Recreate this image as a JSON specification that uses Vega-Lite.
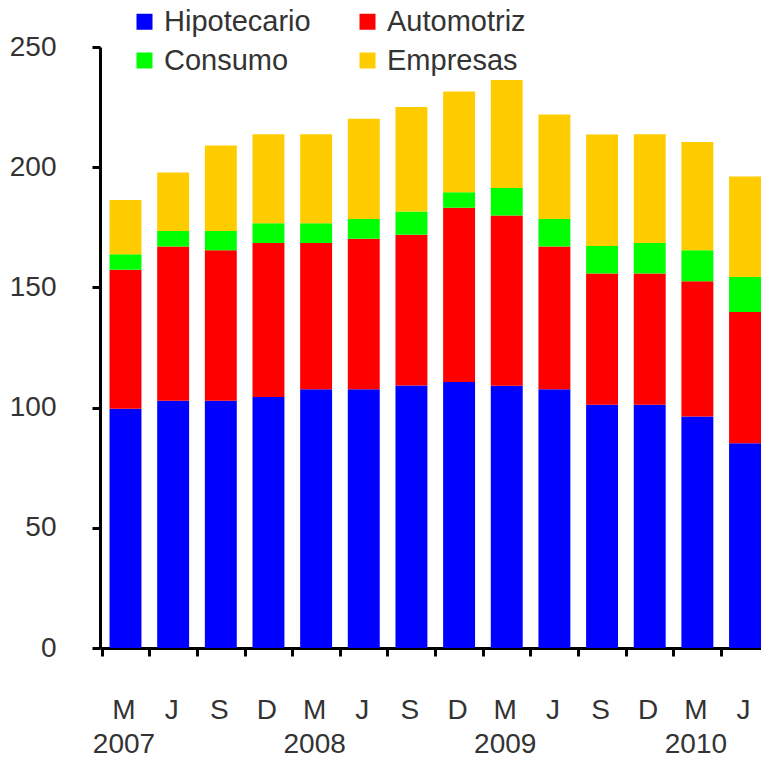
{
  "$schema": "https://vega.github.io/schema/vega-lite/v6.json",
  "width": 661,
  "height": 601,
  "autosize": {"type": "none"},
  "padding": {"left": 100, "top": 47, "right": 0, "bottom": 111},
  "background": "white",
  "config": {
    "view": {"stroke": null},
    "font": "Liberation Sans",
    "axis": {
      "domainColor": "black",
      "domainWidth": 3,
      "tickColor": "black",
      "tickWidth": 3,
      "tickSize": 8,
      "labelColor": "#333333",
      "labelFont": "Liberation Sans",
      "labelFontSize": 28,
      "grid": false,
      "title": null
    }
  },
  "data": {
    "values": [
      {"periodo": "M 2007", "serie": "Hipotecario", "orden": 1, "valor": 99.5},
      {"periodo": "M 2007", "serie": "Automotriz", "orden": 2, "valor": 57.8},
      {"periodo": "M 2007", "serie": "Consumo", "orden": 3, "valor": 6.5},
      {"periodo": "M 2007", "serie": "Empresas", "orden": 4, "valor": 22.6},
      {"periodo": "J 2007", "serie": "Hipotecario", "orden": 1, "valor": 102.8},
      {"periodo": "J 2007", "serie": "Automotriz", "orden": 2, "valor": 64.2},
      {"periodo": "J 2007", "serie": "Consumo", "orden": 3, "valor": 6.5},
      {"periodo": "J 2007", "serie": "Empresas", "orden": 4, "valor": 24.3},
      {"periodo": "S 2007", "serie": "Hipotecario", "orden": 1, "valor": 102.8},
      {"periodo": "S 2007", "serie": "Automotriz", "orden": 2, "valor": 62.7},
      {"periodo": "S 2007", "serie": "Consumo", "orden": 3, "valor": 8.0},
      {"periodo": "S 2007", "serie": "Empresas", "orden": 4, "valor": 35.5},
      {"periodo": "D 2007", "serie": "Hipotecario", "orden": 1, "valor": 104.4},
      {"periodo": "D 2007", "serie": "Automotriz", "orden": 2, "valor": 64.1},
      {"periodo": "D 2007", "serie": "Consumo", "orden": 3, "valor": 8.2},
      {"periodo": "D 2007", "serie": "Empresas", "orden": 4, "valor": 37.0},
      {"periodo": "M 2008", "serie": "Hipotecario", "orden": 1, "valor": 107.6},
      {"periodo": "M 2008", "serie": "Automotriz", "orden": 2, "valor": 60.9},
      {"periodo": "M 2008", "serie": "Consumo", "orden": 3, "valor": 8.2},
      {"periodo": "M 2008", "serie": "Empresas", "orden": 4, "valor": 37.0},
      {"periodo": "J 2008", "serie": "Hipotecario", "orden": 1, "valor": 107.6},
      {"periodo": "J 2008", "serie": "Automotriz", "orden": 2, "valor": 62.6},
      {"periodo": "J 2008", "serie": "Consumo", "orden": 3, "valor": 8.3},
      {"periodo": "J 2008", "serie": "Empresas", "orden": 4, "valor": 41.7},
      {"periodo": "S 2008", "serie": "Hipotecario", "orden": 1, "valor": 109.2},
      {"periodo": "S 2008", "serie": "Automotriz", "orden": 2, "valor": 62.7},
      {"periodo": "S 2008", "serie": "Consumo", "orden": 3, "valor": 9.7},
      {"periodo": "S 2008", "serie": "Empresas", "orden": 4, "valor": 43.4},
      {"periodo": "D 2008", "serie": "Hipotecario", "orden": 1, "valor": 110.7},
      {"periodo": "D 2008", "serie": "Automotriz", "orden": 2, "valor": 72.4},
      {"periodo": "D 2008", "serie": "Consumo", "orden": 3, "valor": 6.5},
      {"periodo": "D 2008", "serie": "Empresas", "orden": 4, "valor": 41.9},
      {"periodo": "M 2009", "serie": "Hipotecario", "orden": 1, "valor": 109.1},
      {"periodo": "M 2009", "serie": "Automotriz", "orden": 2, "valor": 70.8},
      {"periodo": "M 2009", "serie": "Consumo", "orden": 3, "valor": 11.4},
      {"periodo": "M 2009", "serie": "Empresas", "orden": 4, "valor": 45.0},
      {"periodo": "J 2009", "serie": "Hipotecario", "orden": 1, "valor": 107.6},
      {"periodo": "J 2009", "serie": "Automotriz", "orden": 2, "valor": 59.4},
      {"periodo": "J 2009", "serie": "Consumo", "orden": 3, "valor": 11.5},
      {"periodo": "J 2009", "serie": "Empresas", "orden": 4, "valor": 43.4},
      {"periodo": "S 2009", "serie": "Hipotecario", "orden": 1, "valor": 101.2},
      {"periodo": "S 2009", "serie": "Automotriz", "orden": 2, "valor": 54.6},
      {"periodo": "S 2009", "serie": "Consumo", "orden": 3, "valor": 11.4},
      {"periodo": "S 2009", "serie": "Empresas", "orden": 4, "valor": 46.4},
      {"periodo": "D 2009", "serie": "Hipotecario", "orden": 1, "valor": 101.2},
      {"periodo": "D 2009", "serie": "Automotriz", "orden": 2, "valor": 54.6},
      {"periodo": "D 2009", "serie": "Consumo", "orden": 3, "valor": 12.7},
      {"periodo": "D 2009", "serie": "Empresas", "orden": 4, "valor": 45.2},
      {"periodo": "M 2010", "serie": "Hipotecario", "orden": 1, "valor": 96.3},
      {"periodo": "M 2010", "serie": "Automotriz", "orden": 2, "valor": 56.3},
      {"periodo": "M 2010", "serie": "Consumo", "orden": 3, "valor": 12.9},
      {"periodo": "M 2010", "serie": "Empresas", "orden": 4, "valor": 45.0},
      {"periodo": "J 2010", "serie": "Hipotecario", "orden": 1, "valor": 85.2},
      {"periodo": "J 2010", "serie": "Automotriz", "orden": 2, "valor": 54.6},
      {"periodo": "J 2010", "serie": "Consumo", "orden": 3, "valor": 14.5},
      {"periodo": "J 2010", "serie": "Empresas", "orden": 4, "valor": 41.8}
    ]
  },
  "mark": {"type": "bar"},
  "encoding": {
    "x": {
      "field": "periodo",
      "type": "ordinal",
      "sort": null,
      "scale": {"paddingInner": 0.33, "paddingOuter": 0.1, "align": 1},
      "axis": {
        "labelAngle": 0,
        "bandPosition": 0,
        "tickOffset": -8,
        "labelOffset": 6,
        "labelPadding": 40,
        "labelLineHeight": 34,
        "labelBaseline": "top",
        "labelAlign": "center",
        "labelExpr": "[slice(datum.value,0,1), slice(datum.value,0,1)=='M' ? slice(datum.value,2) : '']"
      }
    },
    "y": {
      "field": "valor",
      "type": "quantitative",
      "stack": "zero",
      "scale": {"domain": [0, 250], "nice": false},
      "axis": {"values": [0, 50, 100, 150, 200, 250], "labelPadding": 36}
    },
    "color": {
      "field": "serie",
      "type": "nominal",
      "scale": {
        "domain": ["Hipotecario", "Consumo", "Automotriz", "Empresas"],
        "range": ["#0000FF", "#00FF00", "#FF0000", "#FFCC00"]
      },
      "legend": {
        "title": null,
        "orient": "none",
        "legendX": 30,
        "legendY": -40,
        "columns": 2,
        "padding": 0,
        "symbolType": "square",
        "symbolSize": 256,
        "symbolStrokeWidth": 0,
        "symbolOpacity": 1,
        "labelFontSize": 29,
        "labelFont": "Liberation Sans",
        "labelColor": "#333333",
        "labelOffset": 5,
        "columnPadding": 42,
        "rowPadding": 9,
        "labelLimit": 300
      }
    },
    "order": {"field": "orden", "type": "quantitative"}
  }
}
